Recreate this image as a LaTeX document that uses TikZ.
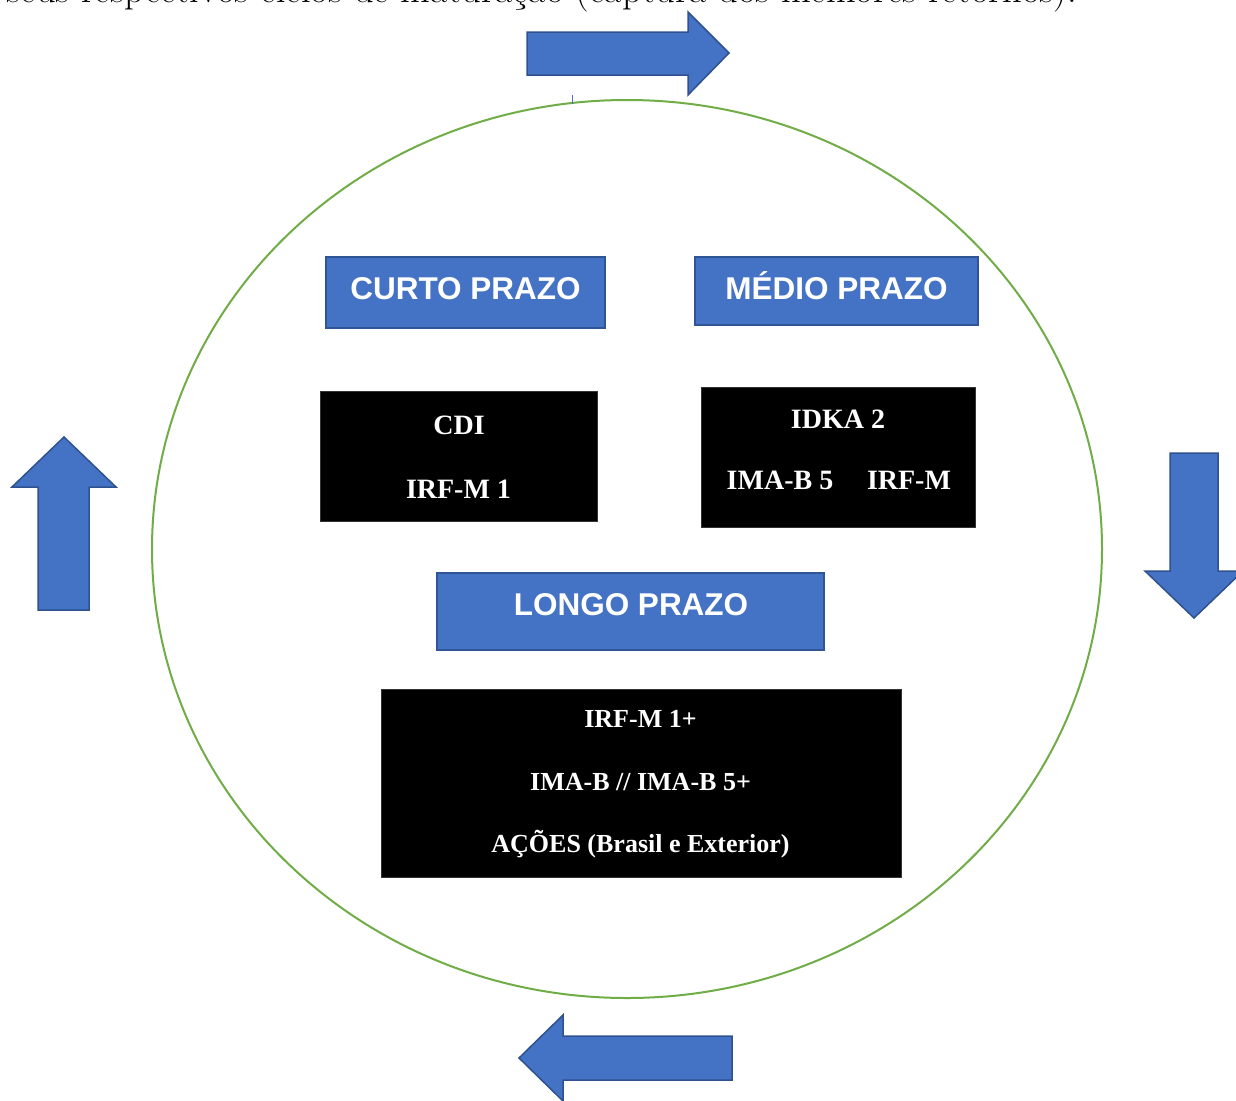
\documentclass[tikz,border=0pt]{standalone}
\usepackage{fontspec}
\newfontfamily\hdrfont{Liberation Sans}
\newfontfamily\boxfont{Liberation Serif}
\definecolor{accblue}{HTML}{4472C4}
\definecolor{accedge}{HTML}{2F5597}
\definecolor{arredge}{HTML}{2F528F}
\definecolor{ringgreen}{HTML}{70AD47}
\tikzset{
  blockarrow/.style={fill=accblue, draw=arredge, line width=1.5pt, line join=miter},
  header/.style={rectangle, fill=accblue, draw=accedge, line width=2pt, inner sep=0pt},
  headtext/.style={anchor=base, text=white, inner sep=0pt, font=\hdrfont\bfseries\fontsize{31.5}{36}\selectfont},
  darkbox/.style={rectangle, fill=black, draw=black!80, line width=1pt, inner sep=0pt},
  darktop/.style={anchor=base, text=white, inner sep=0pt, font=\boxfont\bfseries\fontsize{28}{32}\selectfont},
  darkbot/.style={anchor=base, text=white, inner sep=0pt, font=\boxfont\bfseries\fontsize{26}{30}\selectfont},
}
\begin{document}
\begin{tikzpicture}[x=1pt, y=-1pt]
\useasboundingbox (0,0) rectangle (1236,1100);
\clip (0,0) rectangle (1236,1100);
\fill[white] (0,0) rectangle (1236,1100);

% cut-off line of text at the top
\node[anchor=base east, inner sep=0pt, font=\fontsize{38.5}{42}\selectfont] (toptext) at (1077,2)
  {seus respectivos ciclos de maturação (captura dos melhores retornos).};

% ring
\draw[ringgreen, line width=2pt] (627,549) ellipse [x radius=475, y radius=449];
\draw[accblue, line width=1pt] (572,95) -- (572,104);

% block arrows
\draw[blockarrow] (527,32) -- (688,32) -- (688,12) -- (729,53) -- (688,95) -- (688,75) -- (527,75) -- cycle;
\draw[blockarrow] (1170,453) -- (1218,453) -- (1218,571) -- (1243,571) -- (1194,618) -- (1145,571) -- (1170,571) -- cycle;
\draw[blockarrow] (732,1036) -- (563,1036) -- (563,1015) -- (519,1058) -- (563,1101) -- (563,1080) -- (732,1080) -- cycle;
\draw[blockarrow] (38,610) -- (38,487) -- (12,487) -- (64,437) -- (116,487) -- (89,487) -- (89,610) -- cycle;

% headers
\node[header, minimum width=279pt, minimum height=71pt] (curto) at (465.5,292.5) {};
\node[headtext] (curtot) at (465.5,299) {CURTO PRAZO};
\node[header, minimum width=283pt, minimum height=68pt] (medio) at (836.5,291) {};
\node[headtext] (mediot) at (836.5,299) {MÉDIO PRAZO};
\node[header, minimum width=387pt, minimum height=77pt] (longo) at (630.5,611.5) {};
\node[headtext] (longot) at (631,615) {LONGO PRAZO};

% dark boxes
\node[darkbox, minimum width=277pt, minimum height=130pt] (bcurto) at (458.5,456) {};
\node[darktop] (cdi) at (459,434) {CDI};
\node[darktop] (irfm1) at (458.5,498) {IRF-M 1};

\node[darkbox, minimum width=274pt, minimum height=140pt] (bmedio) at (838,457) {};
\node[darktop] (idka) at (838,428) {IDKA 2};
\node[darktop] (imab5) at (780,489) {IMA-B 5};
\node[darktop] (irfm) at (909,489) {IRF-M};

\node[darkbox, minimum width=520pt, minimum height=188pt] (blongo) at (641,783) {};
\node[darkbot] (irfm1p) at (640.5,727) {IRF-M 1+};
\node[darkbot] (imab) at (640.5,790) {IMA-B // IMA-B 5+};
\node[darkbot] (acoes) at (640.5,852) {AÇÕES (Brasil e Exterior)};
\end{tikzpicture}
\end{document}
